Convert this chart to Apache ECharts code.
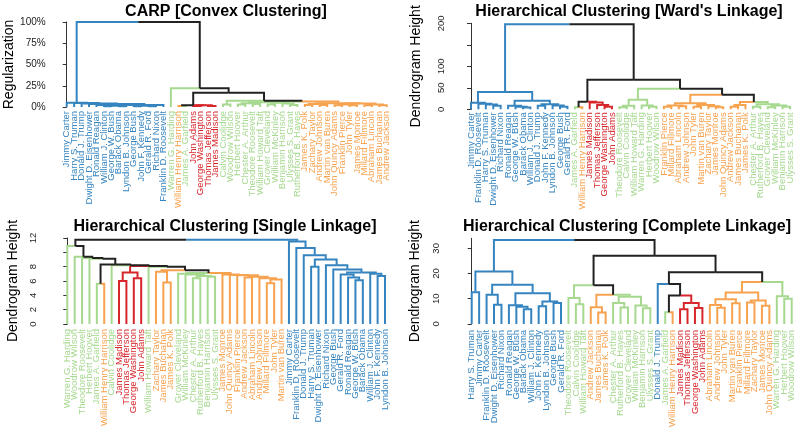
<!DOCTYPE html>
<html><head><meta charset="utf-8">
<script src="https://cdn.jsdelivr.net/npm/echarts@6/dist/echarts.min.js"></script>
<style>html,body{margin:0;padding:0;background:#fff}#c{width:800px;height:430px}</style>
</head><body><div id="c"></div>
<script>
// ---- groups (leaf label colours) ----
const blueGroup = ["Jimmy Carter","Harry S. Truman","Donald J. Trump","Dwight D. Eisenhower","Ronald Reagan","William J. Clinton","George W. Bush","Barack Obama","Lyndon B. Johnson","George Bush","John F. Kennedy","Gerald R. Ford","Richard Nixon","Franklin D. Roosevelt"];
const redGroup = ["John Adams","George Washington","Thomas Jefferson","James Madison"];
const greenGroup = ["Warren G. Harding","James A. Garfield","Calvin Coolidge","Woodrow Wilson","Herbert Hoover","Chester A. Arthur","Theodore Roosevelt","William Howard Taft","Grover Cleveland","William McKinley","Benjamin Harrison","Ulysses S. Grant","Rutherford B. Hayes"];
const orangeGroup = ["William Henry Harrison","James K. Polk","Zachary Taylor","Andrew Johnson","Martin van Buren","John Quincy Adams","Franklin Pierce","John Tyler","James Monroe","Millard Fillmore","Abraham Lincoln","James Buchanan","Andrew Jackson"];

// ---- leaf orders ----
const carpOrder = ["Jimmy Carter","Harry S. Truman","Donald J. Trump","Dwight D. Eisenhower","Ronald Reagan","William J. Clinton","George W. Bush","Barack Obama","Lyndon B. Johnson","George Bush","John F. Kennedy","Gerald R. Ford","Richard Nixon","Franklin D. Roosevelt","Warren G. Harding","William Henry Harrison","James A. Garfield","John Adams","George Washington","Thomas Jefferson","James Madison","Calvin Coolidge","Woodrow Wilson","Herbert Hoover","Chester A. Arthur","Theodore Roosevelt","William Howard Taft","Grover Cleveland","William McKinley","Benjamin Harrison","Ulysses S. Grant","Rutherford B. Hayes","James K. Polk","Zachary Taylor","Andrew Johnson","Martin van Buren","John Quincy Adams","Franklin Pierce","John Tyler","James Monroe","Millard Fillmore","Abraham Lincoln","James Buchanan","Andrew Jackson"];
const wardOrder = ["Jimmy Carter","Franklin D. Roosevelt","Harry S. Truman","Dwight D. Eisenhower","Richard Nixon","Ronald Reagan","George W. Bush","Barack Obama","William J. Clinton","Donald J. Trump","John F. Kennedy","Lyndon B. Johnson","George Bush","Gerald R. Ford","James A. Garfield","William Henry Harrison","James Madison","Thomas Jefferson","George Washington","John Adams","Theodore Roosevelt","Calvin Coolidge","William Howard Taft","Warren G. Harding","Herbert Hoover","Woodrow Wilson","Franklin Pierce","Millard Fillmore","Abraham Lincoln","Andrew Johnson","John Tyler","Martin van Buren","Zachary Taylor","James Monroe","John Quincy Adams","Andrew Jackson","James Buchanan","James K. Polk","Chester A. Arthur","Rutherford B. Hayes","Grover Cleveland","William McKinley","Benjamin Harrison","Ulysses S. Grant"];
const singleOrder = ["Warren G. Harding","Woodrow Wilson","Theodore Roosevelt","Herbert Hoover","James A. Garfield","William Henry Harrison","Calvin Coolidge","James Madison","Thomas Jefferson","George Washington","John Adams","William Howard Taft","Zachary Taylor","James Buchanan","James K. Polk","Grover Cleveland","William McKinley","Chester A. Arthur","Rutherford B. Hayes","Benjamin Harrison","Ulysses S. Grant","James Monroe","John Quincy Adams","Franklin Pierce","Andrew Jackson","Abraham Lincoln","Andrew Johnson","Millard Fillmore","John Tyler","Martin van Buren","Jimmy Carter","Franklin D. Roosevelt","Donald J. Trump","Harry S. Truman","Dwight D. Eisenhower","Richard Nixon","George Bush","Gerald R. Ford","Ronald Reagan","George W. Bush","Barack Obama","William J. Clinton","John F. Kennedy","Lyndon B. Johnson"];
const completeOrder = ["Harry S. Truman","Jimmy Carter","Franklin D. Roosevelt","Dwight D. Eisenhower","Richard Nixon","Ronald Reagan","George W. Bush","Barack Obama","William J. Clinton","John F. Kennedy","Lyndon B. Johnson","George Bush","Gerald R. Ford","Theodore Roosevelt","Calvin Coolidge","William Howard Taft","Andrew Jackson","James Buchanan","James K. Polk","Chester A. Arthur","Rutherford B. Hayes","Grover Cleveland","William McKinley","Benjamin Harrison","Ulysses S. Grant","Donald J. Trump","James A. Garfield","William Henry Harrison","James Madison","Thomas Jefferson","George Washington","John Adams","Abraham Lincoln","Andrew Johnson","John Tyler","Martin van Buren","Franklin Pierce","Millard Fillmore","Zachary Taylor","James Monroe","John Quincy Adams","Warren G. Harding","Herbert Hoover","Woodrow Wilson"];

// ---- merge trees: [height, left, right], leaves = position in order ----
const carpBlue = [5, 0, [4.6, 1, [4.2, 2, [3.6, 3, [2.5, [2.5, [2.5, 4, [1.5, [1, 5, 6], [1, 7, 8]]], [1.5, [1, 9, 10], [1, 11, 12]]], 13]]]]];
const carpGreen = [5.5, [4.5, [3, 23, 24], [3.5, 25, 26]], [5, [3, 27, 28], [4, 29, [2.5, 30, 31]]]];
const carpOrange = [4.5, [3.5, [2.5, 32, 33], [2.5, 34, 35]], [4, [3, [2, 36, 37], [2, 38, 39]], [3, [2, 40, 41], [2, 42, 43]]]];
const carpRest = [22, 14, [16.8, [2.2, [1.2, 15, 16], [2, [1.2, 17, 18], [1.2, 19, 20]]], [7.4, [3, 21, 22], [6.5, carpGreen, carpOrange]]]];
const carpTree = [100, carpBlue, carpRest];

const wardBlue = [40, [15, 0, [13, 1, [11, 2, [8, 3, 4]]]], [20, [8, 5, [6, 6, [4, 7, 8]]], [12, [8, 9, 10], [9, 11, [6, 12, 13]]]]];
const wardRed = [17.5, [5, 14, 15], [16, 16, [10, 17, [6, 18, 19]]]];
const wardGreen = [22, [8, [5, 20, 21], 22], [9, 23, [6, 24, 25]]];
const wardOrange = [14, [9, [6, 26, 27], [7, 28, 29]], [10, [6, 30, 31], [7, 32, [5, 33, 34]]]];
const wardMixed = [17, [10, [6, 35, 36], 37], [12, [6, 38, 39], [9, [5, 40, 41], [6, 42, 43]]]];
const wardTree = [198, wardBlue, [69, wardRed, [48, wardGreen, [34, wardOrange, wardMixed]]]];

const singleBlue = [11.5, 30, [10.6, 31, [9.6, 32, [9.0, [8.0, 33, 34], [8.2, 35, [7.6, 36, [7.2, [6.9, 37, [6.5, 38, [6.1, 39, 40]]], [7.0, 41, [6.7, 42, 43]]]]]]]]];
const singleRed = [7.2, [6.0, 7, 8], [6.4, 9, 10]];
const singleGreen = [7.0, 15, [6.9, 16, [6.7, [6.4, 17, 18], [6.6, 19, 20]]]];
const singleOrange = [6.9, 21, [6.85, 22, [6.8, 23, [6.6, [6.5, 24, 25], [6.4, 26, [6.2, [5.7, 27, 28], 29]]]]]];
const singleOther = [7.3, 12, [5.8, 13, 14]];
const singleLeft = [10.9, 0, [9.4, 1, [9.2, 2, [9.1, 3, [8.3, [5.6, 4, 5], [8.2, 6, [8.1, singleRed, [8.0, 11, [7.5, singleOther, [7.1, singleGreen, singleOrange]]]]]]]]]];
const singleTree = [11.75, singleLeft, singleBlue];

const compBlue = [20.8, [12.6, 0, 1], [15.5, [11.6, 2, [7.6, 3, 4]], [12.2, [7.4, 5, [6.8, 6, [5.8, 7, 8]]], [8.9, [7, 9, 10], [8.3, 11, 12]]]]];
const compLeft = [15.3, [10.3, 13, [7.8, 14, 15]], [11.6, [6.6, 16, [4.5, 17, 18]], [10.8, [8.3, 19, [6.5, 20, 21]], [7.3, 22, [6.2, 23, 24]]]]];
const compMid = [15.8, 25, [11.3, [4.6, 26, 27], [8.3, [5.8, 28, 29], [6.3, 30, 31]]]];
const compRight = [16.6, [12.5, [9.8, [7.5, 32, [6.4, 33, 34]], [8.2, 35, 36]], [9.3, [8.5, 37, 38], [7.2, 39, 40]]], [11, 41, [10, 42, 43]]];
const compTree = [33.3, compBlue, [27.1, compLeft, [20.5, compMid, compRight]]];

// ---- tick values ----
const carpTicks = [0, 25, 50, 75, 100];
const wardTicks = [0, 50, 100, 150, 200];
const wardTickLabels = [0, 50, 100, 200];
const singleTicks = [0, 2, 4, 6, 8, 10, 12];
const singleTickLabels = [0, 2, 4, 6, 8, 12];
const compTicks = [0, 10, 20, 30];

const titles = ["CARP [Convex Clustering]", "Hierarchical Clustering [Ward's Linkage]", "Hierarchical Clustering [Single Linkage]", "Hierarchical Clustering [Complete Linkage]"];

// ---- styling ----
const FONT = '"Liberation Sans", Arial, Helvetica, sans-serif';
const COL = {blue:'#3584bf', green:'#a6d98f', orange:'#f7a24f', red:'#d7262b', mixed:'#222222'};
const groupColor = {};
blueGroup.forEach(n => groupColor[n] = COL.blue);
redGroup.forEach(n => groupColor[n] = COL.red);
greenGroup.forEach(n => groupColor[n] = COL.green);
orangeGroup.forEach(n => groupColor[n] = COL.orange);

function treeSegments(tree, order) {
  const segs = [];
  function walk(n) {
    if (typeof n === 'number') return {x: n, h: 0, c: groupColor[order[n]]};
    const h = n[0], a = walk(n[1]), b = walk(n[2]);
    const x = (a.x + b.x) / 2;
    const c = a.c === b.c ? a.c : COL.mixed;
    [a, b].forEach(ch => segs.push({coords: [[ch.x, ch.h], [ch.x, h], [x, h]], lineStyle: {color: ch.c}}));
    return {x, h, c};
  }
  walk(tree);
  return segs;
}

const panels = [
  {order: carpOrder, tree: carpTree, grid: {left: 66.7, top: 22, width: 320, height: 85}, yMax: 100,
   ticks: carpTicks, labels: carpTicks, fmt: v => v + '%', rotate: 0, lblSize: 10, lblMargin: 6,
   offset: 15, name: 'Regularization', nameGap: 36, leafMargin: 4, tx: 226, ty: 12},
  {order: wardOrder, tree: wardTree, grid: {left: 471, top: 23.3, width: 319, height: 86}, yMax: 200,
   ticks: wardTicks, labels: wardTickLabels, fmt: v => String(v), rotate: 90, lblSize: 9.5, lblMargin: 7,
   offset: 18, name: 'Dendrogram Height', nameGap: 30, leafMargin: 3, tx: 629, ty: 12},
  {order: singleOrder, tree: singleTree, grid: {left: 67.3, top: 238, width: 317.7, height: 86}, yMax: 12,
   ticks: singleTicks, labels: singleTickLabels, fmt: v => String(v), rotate: 90, lblSize: 9.5, lblMargin: 12,
   offset: 17.3, name: 'Dendrogram Height', nameGap: 30, leafMargin: 5, tx: 225, ty: 227},
  {order: completeOrder, tree: compTree, grid: {left: 471.7, top: 238.3, width: 320, height: 86}, yMax: 34,
   ticks: compTicks, labels: compTicks, fmt: v => String(v), rotate: 90, lblSize: 9.5, lblMargin: 12,
   offset: 18.7, name: 'Dendrogram Height', nameGap: 31, leafMargin: 6, tx: 627, ty: 227}
];

const option = {
  animation: false,
  backgroundColor: '#ffffff',
  grid: [], xAxis: [], yAxis: [], series: [], graphic: []
};

panels.forEach((p, k) => {
  option.grid.push(Object.assign({containLabel: false}, p.grid));
  option.xAxis.push({type: 'value', gridIndex: k, min: 0, max: p.order.length - 1, show: false, position: 'bottom'});
  option.xAxis.push({
    type: 'category', gridIndex: k, data: p.order, boundaryGap: false, position: 'bottom',
    axisLine: {show: false}, axisTick: {show: false}, splitLine: {show: false},
    axisLabel: {
      interval: 0, rotate: 90, margin: p.leafMargin, fontSize: 9.5, fontFamily: FONT,
      color: (v) => groupColor[v]
    }
  });
  option.yAxis.push({
    type: 'value', gridIndex: k, min: 0, max: p.yMax, offset: p.offset,
    name: p.name, nameLocation: 'middle', nameGap: p.nameGap,
    nameTextStyle: {fontSize: 14, fontFamily: FONT, color: '#000'},
    axisLine: {show: true, lineStyle: {color: '#333', width: 1}},
    axisTick: {show: true, length: 4, customValues: p.ticks, lineStyle: {color: '#333', width: 1}},
    splitLine: {show: false},
    axisLabel: {customValues: p.labels, formatter: p.fmt, rotate: p.rotate, fontSize: p.lblSize,
                fontFamily: FONT, color: '#222', margin: p.lblMargin}
  });
  option.series.push({
    type: 'lines', coordinateSystem: 'cartesian2d', xAxisIndex: 2 * k, yAxisIndex: k,
    polyline: true, silent: true, data: treeSegments(p.tree, p.order),
    lineStyle: {width: 2, opacity: 1, cap: 'butt', join: 'miter'}
  });
  option.graphic.push({
    type: 'text', x: p.tx, y: p.ty,
    style: {text: titles[k], font: 'bold 16px ' + FONT, fill: '#000', textAlign: 'center', textVerticalAlign: 'middle'}
  });
});

const chart = echarts.init(document.getElementById('c'), null, {renderer: 'canvas'});
chart.setOption(option);
</script>
</body></html>
